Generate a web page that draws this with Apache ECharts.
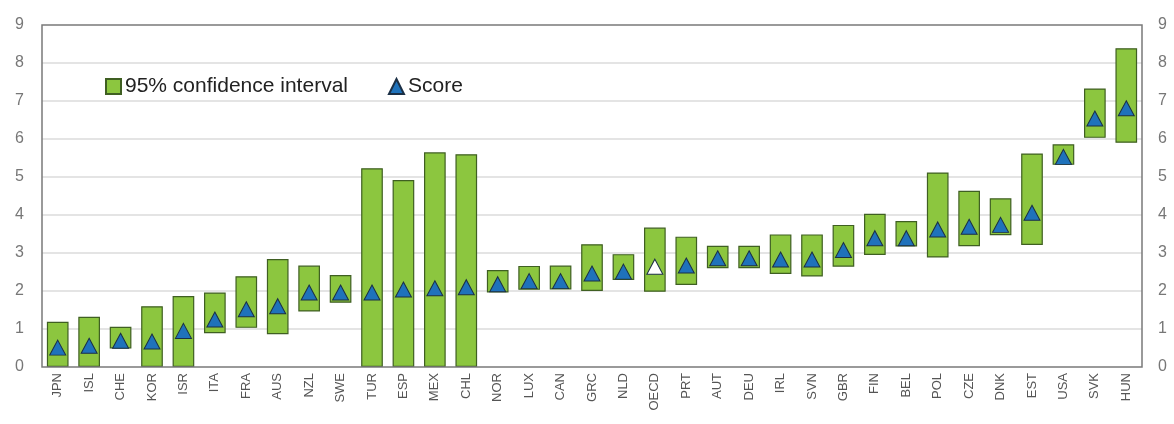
<!DOCTYPE html>
<html>
<head>
<meta charset="utf-8">
<script src="https://cdn.jsdelivr.net/npm/echarts@6/dist/echarts.min.js"></script>
<style>
  html, body { margin: 0; padding: 0; background: #fff; }
  #chart { width: 1174px; height: 424px; }
</style>
</head>
<body>
<div id="chart"></div>
<script>
const countries = ['JPN', 'ISL', 'CHE', 'KOR', 'ISR', 'ITA', 'FRA', 'AUS', 'NZL', 'SWE', 'TUR', 'ESP', 'MEX', 'CHL',
  'NOR', 'LUX', 'CAN', 'GRC', 'NLD', 'OECD', 'PRT', 'AUT', 'DEU', 'IRL', 'SVN', 'GBR', 'FIN', 'BEL', 'POL', 'CZE',
  'DNK', 'EST', 'USA', 'SVK', 'HUN']
const ciLow = [0, 0, 0.49, 0, 0, 0.89, 1.03, 0.86, 1.46, 1.69, 0, 0, 0, 0,
  1.96, 2.03, 2.04, 2.0, 2.29, 1.98, 2.16, 2.6, 2.6, 2.45, 2.38, 2.64, 2.95, 3.17, 2.88, 3.18,
  3.47, 3.21, 5.32, 6.03, 5.9]
const ciHigh = [1.19, 1.32, 1.06, 1.6, 1.87, 1.96, 2.39, 2.84, 2.67, 2.42, 5.23, 4.92, 5.65, 5.6,
  2.55, 2.66, 2.67, 3.23, 2.97, 3.67, 3.43, 3.19, 3.19, 3.49, 3.49, 3.74, 4.03, 3.84, 5.12, 4.64,
  4.44, 5.62, 5.86, 7.33, 8.39]
const scores = [0.51, 0.56, 0.69, 0.67, 0.95, 1.25, 1.52, 1.6, 1.96, 1.96, 1.96, 2.04, 2.07, 2.1,
  2.18, 2.26, 2.26, 2.46, 2.51, 2.64, 2.67, 2.86, 2.86, 2.83, 2.83, 3.08, 3.39, 3.39, 3.62, 3.69,
  3.74, 4.06, 5.53, 6.54, 6.81]
const yTicks = [0, 1, 2, 3, 4, 5, 6, 7, 8, 9]

const chart = echarts.init(document.getElementById('chart'))

const bandData = ciHigh.map((h, i) => +(h - ciLow[i]).toFixed(2))
const scoreData = scores.map((s, i) => {
  if (countries[i] === 'OECD') {
    return { value: s, itemStyle: { color: '#ffffff' } }
  }
  return s
})

const yAxisCommon = {
  type: 'value',
  min: yTicks[0],
  max: yTicks[yTicks.length - 1],
  interval: 1,
  axisLine: { show: false },
  axisTick: { show: false },
  axisLabel: {
    fontSize: 16,
    color: '#777',
    fontFamily: 'Liberation Sans'
  }
}

chart.setOption({
  animation: false,
  textStyle: { fontFamily: 'Liberation Sans' },
  grid: {
    left: 42,
    right: 32,
    top: 25,
    bottom: 57,
    show: true,
    borderColor: '#7a7a7a',
    borderWidth: 1.5,
    backgroundColor: 'transparent',
    z: 3
  },
  legend: {
    left: 100,
    top: 71,
    itemWidth: 15,
    itemHeight: 15,
    itemGap: 40,
    textStyle: { fontSize: 21, color: '#222', padding: [0, 0, 0, -1] },
    data: [
      { name: '95% confidence interval', icon: 'rect' },
      { name: 'Score', icon: 'triangle' }
    ]
  },
  xAxis: {
    type: 'category',
    data: countries,
    axisLine: { show: false },
    axisTick: { show: false },
    axisLabel: {
      interval: 0,
      rotate: 90,
      fontSize: 13,
      color: '#555',
      margin: 6
    }
  },
  yAxis: [
    {
      ...yAxisCommon,
      position: 'left',
      axisLabel: { ...yAxisCommon.axisLabel, margin: 18 },
      splitLine: {
        show: true,
        showMinLine: false,
        showMaxLine: false,
        lineStyle: { color: '#e4e4e4', width: 2 }
      }
    },
    {
      ...yAxisCommon,
      position: 'right',
      axisLabel: { ...yAxisCommon.axisLabel, margin: 16 },
      splitLine: { show: false }
    }
  ],
  series: [
    {
      name: 'base',
      type: 'bar',
      stack: 'ci',
      barWidth: '69%',
      itemStyle: { color: 'transparent' },
      emphasis: { disabled: true },
      data: ciLow
    },
    {
      name: '95% confidence interval',
      type: 'bar',
      stack: 'ci',
      barWidth: '69%',
      itemStyle: { color: '#8cc63f', borderColor: '#3f5f22', borderWidth: 1.2 },
      data: bandData
    },
    {
      name: 'Score',
      type: 'scatter',
      symbol: 'triangle',
      symbolSize: [16, 15],
      z: 5,
      itemStyle: { color: '#1f72bb', borderColor: '#1b2f45', borderWidth: 1, opacity: 1 },
      data: scoreData
    }
  ]
})
</script>
</body>
</html>
